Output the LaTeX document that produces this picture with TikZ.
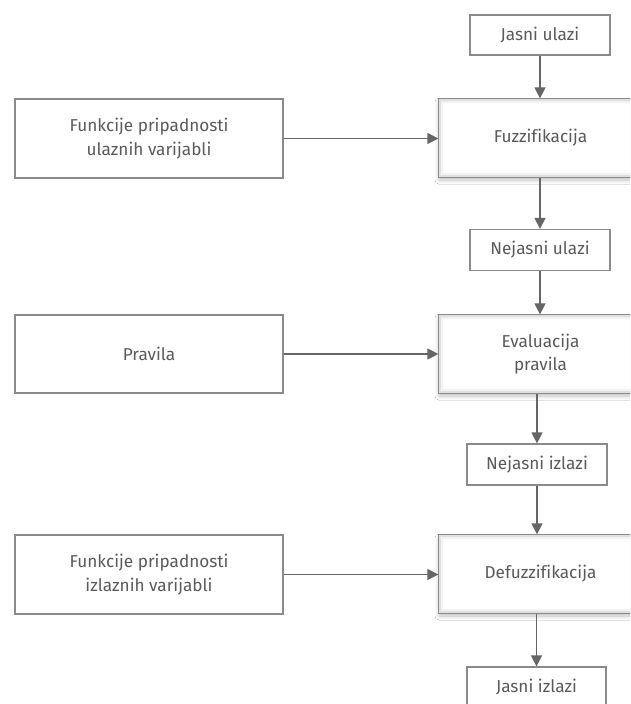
\documentclass[tikz,border=0pt]{standalone}
\usepackage{fontspec}
\setmainfont[Ligatures=NoCommon]{Fira Sans}
\usetikzlibrary{arrows.meta,shadows.blur}
\definecolor{boxline}{HTML}{8A8A8A}
\definecolor{arrowline}{HTML}{666666}
\definecolor{txt}{HTML}{5A5A5A}
\tikzset{
  base/.style={draw=boxline, line width=1.2pt, fill=white, align=center, text=txt,
    font=\fontsize{17.2}{23.5}\selectfont, inner sep=0pt},
  leftbox/.style={base, minimum width=268pt, minimum height=79pt},
  bigbox/.style={base, minimum width=203pt, minimum height=78pt,
    blur shadow={shadow xshift=0pt, shadow yshift=-3pt, shadow blur radius=4pt, shadow opacity=25}},
  smallbox/.style={base, minimum width=140pt, minimum height=40pt},
  conn/.style={draw=arrowline, line width=1.3pt, -{Triangle[length=11pt,width=11pt]}},
  innerA/.style={draw=black!12, line width=2pt},
  innerB/.style={draw=black!5, line width=2pt}
}
\begin{document}
\begin{tikzpicture}[x=1pt,y=-1pt]
\useasboundingbox (0,0) rectangle (630,704);
\clip (0,0) rectangle (630,704);
\fill[white] (0,0) rectangle (630,704);

% left boxes
\node[leftbox] (l1) at (149,138.5) {Funkcije pripadnosti\\ulaznih varijabli};
\node[leftbox, minimum height=78pt] (l2) at (149,354) {Pravila};
\node[leftbox] (l3) at (149,574.5) {Funkcije pripadnosti\\izlaznih varijabli};

% big boxes
\node[bigbox] (fz) at (540.5,138) {Fuzzifikacija};
\node[bigbox] (ev) at (540.5,354) {Evaluacija\\pravila};
\node[bigbox] (df) at (540.5,574) {Defuzzifikacija};
\foreach \b in {fz,ev,df}{
  \draw[innerA] ([shift={(2pt,-2pt)}]\b.north west) rectangle ([shift={(-2pt,2pt)}]\b.south east);
  \draw[innerB] ([shift={(4pt,-4pt)}]\b.north west) rectangle ([shift={(-4pt,4pt)}]\b.south east);
  \draw[boxline, line width=1.2pt] (\b.north west) rectangle (\b.south east);
}

% small boxes
\node[smallbox] (ju) at (540,35) {Jasni ulazi};
\node[smallbox, minimum height=41pt] (nu) at (540,250) {Nejasni ulazi};
\node[smallbox, minimum height=41pt] (ni) at (537,464.5) {Nejasni izlazi};
\node[smallbox, minimum width=139pt] (ji) at (536.5,687) {Jasni izlazi};

% connectors
\draw[conn] (ju.south) -- (ju.south |- fz.north);
\draw[conn] (fz.south -| nu.north) -- (nu.north);
\draw[conn] (nu.south) -- (nu.south |- ev.north);
\draw[conn] (ev.south -| ni.north) -- (ni.north);
\draw[conn] (ni.south) -- (ni.south |- df.north);
\draw[conn] (df.south -| ji.north) -- (ji.north);

\draw[conn] (l1.east) -- (l1.east -| fz.west);
\draw[conn] (l2.east) -- (l2.east -| ev.west);
\draw[conn] (l3.east) -- (l3.east -| df.west);
\end{tikzpicture}
\end{document}
